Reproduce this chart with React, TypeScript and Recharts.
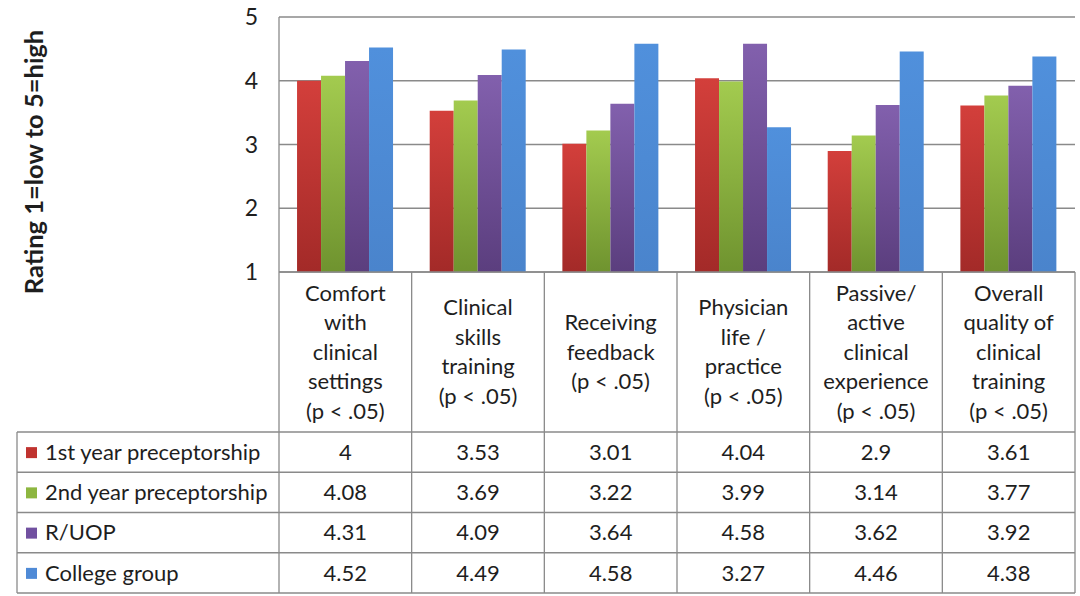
import { Bar, BarChart, CartesianGrid, XAxis, YAxis } from "recharts";

const categories = [
  "Comfort with clinical settings (p < .05)",
  "Clinical skills training (p < .05)",
  "Receiving feedback (p < .05)",
  "Physician life / practice (p < .05)",
  "Passive/ active clinical experience (p < .05)",
  "Overall quality of clinical training (p < .05)",
];

// header text as it wraps in the table
const headerLines = [
  ["Comfort", "with", "clinical", "settings", "(p < .05)"],
  ["Clinical", "skills", "training", "(p < .05)"],
  ["Receiving", "feedback", "(p < .05)"],
  ["Physician", "life /", "practice", "(p < .05)"],
  ["Passive/", "active", "clinical", "experience", "(p < .05)"],
  ["Overall", "quality of", "clinical", "training", "(p < .05)"],
];

const seriesNames = ["1st year preceptorship", "2nd year preceptorship", "R/UOP", "College group"];
const firstYear = [4, 3.53, 3.01, 4.04, 2.9, 3.61];
const secondYear = [4.08, 3.69, 3.22, 3.99, 3.14, 3.77];
const ruop = [4.31, 4.09, 3.64, 4.58, 3.62, 3.92];
const college = [4.52, 4.49, 4.58, 3.27, 4.46, 4.38];
const yTicks = [1, 2, 3, 4, 5];

const seriesKeys = ["first", "second", "ruop", "college"];
const seriesValues = [firstYear, secondYear, ruop, college];
const colors = [
  { top: "#d33f3b", bottom: "#a32a28", flat: "#c0332f" },
  { top: "#a3cb4f", bottom: "#6f932f", flat: "#8db640" },
  { top: "#8260ad", bottom: "#5b3e7e", flat: "#7150a0" },
  { top: "#5090dc", bottom: "#4a84cc", flat: "#4f8ad6" },
];

const data = categories.map((name, i) => ({
  name,
  first: firstYear[i],
  second: secondYear[i],
  ruop: ruop[i],
  college: college[i],
}));

// layout
const W = 1080;
const H = 596;
const PLOT_LEFT = 279;
const PLOT_RIGHT = 1075;
const PLOT_TOP = 17;
const AXIS_Y = 272;
const HEADER_BOTTOM = 432;
const ROW_H = 40.25;
const TABLE_LEFT = 17;
const TABLE_BOTTOM = HEADER_BOTTOM + ROW_H * 4;
const BAND = (PLOT_RIGHT - PLOT_LEFT) / categories.length;
const FONT = "Lato, 'Open Sans', sans-serif";
const FS = 22;
const GRID = "#8a8a8a";
const TEXT = "#1e1e1e";

function TableColumn(props: any) {
  const { x, payload } = props;
  const idx = payload.index;
  const lines = headerLines[idx];
  const lh = 29.5;
  const mid = (AXIS_Y + HEADER_BOTTOM) / 2;
  const y0 = mid - ((lines.length - 1) * lh) / 2;
  return (
    <g>
      <line x1={x + BAND / 2} x2={x + BAND / 2} y1={AXIS_Y} y2={TABLE_BOTTOM} stroke={GRID} strokeWidth={1.3} />
      <text textAnchor="middle" fontFamily={FONT} fontSize={FS} fill={TEXT}>
        {lines.map((l, i) => (
          <tspan key={i} x={x} y={y0 + i * lh} dy="0.35em">
            {l}
          </tspan>
        ))}
      </text>
      {seriesValues.map((vals, r) => (
        <text
          key={r}
          x={x}
          y={HEADER_BOTTOM + ROW_H * (r + 0.5)}
          dy="0.35em"
          textAnchor="middle"
          fontFamily={FONT}
          fontSize={FS}
          fill={TEXT}
        >
          {String(vals[idx])}
        </text>
      ))}
    </g>
  );
}

function YLabel() {
  return (
    <text
      x={34}
      y={162}
      transform="rotate(-90 34 162)"
      textAnchor="middle"
      dy="0.35em"
      fontFamily={FONT}
      fontWeight={700}
      fontSize={25.5}
      fill={TEXT}
    >
      Rating 1=low to 5=high
    </text>
  );
}

function TableFrame() {
  return (
    <svg width={W} height={H} style={{ position: "absolute", left: 0, top: 0, pointerEvents: "none" }}>
      {/* row separators */}
      {[0, 1, 2, 3, 4].map((r) => (
        <line
          key={r}
          x1={TABLE_LEFT}
          x2={PLOT_RIGHT}
          y1={HEADER_BOTTOM + ROW_H * r}
          y2={HEADER_BOTTOM + ROW_H * r}
          stroke={GRID}
          strokeWidth={1.3}
        />
      ))}
      <line x1={TABLE_LEFT} x2={TABLE_LEFT} y1={HEADER_BOTTOM} y2={TABLE_BOTTOM} stroke={GRID} strokeWidth={1.3} />
      <line x1={PLOT_LEFT} x2={PLOT_LEFT} y1={AXIS_Y} y2={TABLE_BOTTOM} stroke={GRID} strokeWidth={1.3} />
      {seriesNames.map((s, r) => {
        const cy = HEADER_BOTTOM + ROW_H * (r + 0.5);
        return (
          <g key={s}>
            <rect x={26} y={cy - 5} width={11} height={11} fill={colors[r].flat} />
            <text x={45} y={cy} dy="0.35em" fontFamily={FONT} fontSize={FS} fill={TEXT}>
              {s}
            </text>
          </g>
        );
      })}
      <YLabel />
    </svg>
  );
}

export default function App() {
  return (
    <div style={{ position: "absolute", left: 0, top: 0, width: W, height: H, background: "#fff" }}>
      <BarChart
        width={W}
        height={H}
        data={data}
        margin={{ top: PLOT_TOP, right: W - PLOT_RIGHT, left: 0, bottom: 0 }}
        barCategoryGap="13.6%"
        barGap={0}
      >
        <defs>
          {colors.map((c, i) => (
            <linearGradient key={i} id={`grad${i}`} x1="0" y1="0" x2="0" y2="1">
              <stop offset="0%" stopColor={c.top} />
              <stop offset="100%" stopColor={c.bottom} />
            </linearGradient>
          ))}
        </defs>
        <CartesianGrid vertical={false} stroke={GRID} strokeWidth={1.3} />
        <XAxis
          dataKey="name"
          height={H - AXIS_Y}
          axisLine={{ stroke: GRID, strokeWidth: 1.3 }}
          tickLine={false}
          tick={<TableColumn />}
          interval={0}
        />
        <YAxis
          width={PLOT_LEFT}
          domain={[1, 5]}
          ticks={yTicks}
          axisLine={{ stroke: GRID, strokeWidth: 1.3 }}
          tickLine={false}
          tickMargin={15}
          tick={{ fontFamily: FONT, fontSize: 23, fill: TEXT }}
        />
        {seriesKeys.map((k, i) => (
          <Bar key={k} dataKey={k} name={seriesNames[i]} fill={`url(#grad${i})`} isAnimationActive={false} />
        ))}
      </BarChart>
      <TableFrame />
    </div>
  );
}
